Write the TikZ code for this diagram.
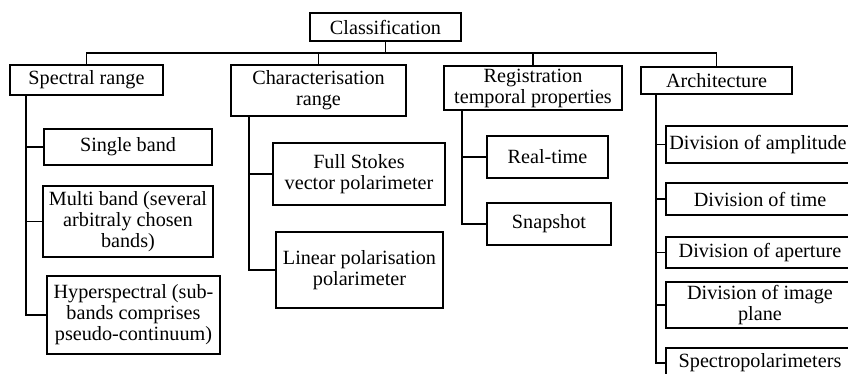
\documentclass[tikz,border=0pt]{standalone}
\usepackage{fontspec}
\setmainfont{Liberation Serif}
\begin{document}
\begin{tikzpicture}[x=1pt,y=-1pt,
  box/.style={draw=black,line width=1.5pt,inner sep=0pt,align=center,
    font=\fontsize{20.2}{21}\selectfont},
  con/.style={draw=black,line width=1.8pt}]
\clip (0,0) rectangle (848,373);
\useasboundingbox (0,0) rectangle (848,373);
% level 0 and 1
\node[box,minimum width=151pt,minimum height=28pt] (cls) at (385.5,27) {Classification};
\node[box,minimum width=153pt,minimum height=30pt] (spec) at (86.5,80) {Spectral range};
\node[box,minimum width=175pt,minimum height=51pt] (char) at (318.5,90.5) {Characterisation\\range};
\node[box,minimum width=178pt,minimum height=44pt] (reg) at (533,88) {Registration\\temporal properties};
\node[box,minimum width=151pt,minimum height=27pt] (arch) at (716.5,80.5) {Architecture};
% spectral children
\node[box,minimum width=168pt,minimum height=36pt] (single) at (128,147) {Single band};
\node[box,minimum width=170pt,minimum height=71pt] (multi) at (128,221.5) {Multi band (several\\arbitraly chosen\\bands)};
\node[box,minimum width=173pt,minimum height=78pt] (hyper) at (133.5,315) {Hyperspectral (sub-\\bands comprises\\pseudo-continuum)};
% characterisation children
\node[box,minimum width=172pt,minimum height=62pt] (full) at (359,174) {Full Stokes\\vector polarimeter};
\node[box,minimum width=167pt,minimum height=76pt] (lin) at (359.5,270) {Linear polarisation\\polarimeter};
% registration children
\node[box,minimum width=121pt,minimum height=42pt] (rt) at (547.5,157) {Real-time};
\node[box,minimum width=124pt,minimum height=42pt] (snap) at (549,224) {Snapshot};
% architecture children
\node[box,minimum width=184pt,minimum height=37pt] (amp) at (758,144.5) {Division of amplitude};
\node[box,minimum width=188pt,minimum height=32pt] (time) at (760,199) {Division of time};
\node[box,minimum width=188pt,minimum height=31pt] (ape) at (760,252.5) {Division of aperture};
\node[box,minimum width=188pt,minimum height=46pt] (img) at (760,305) {Division of image\\plane};
\node[box,minimum width=188pt,minimum height=30pt] (sp) at (760,363) {Spectropolarimeters};
% bus coordinates
\coordinate (bus) at (0,53);
\coordinate (tS) at (26,0);
\coordinate (tC) at (249,0);
\coordinate (tR) at (462,0);
\coordinate (tA) at (656,0);
% top level connectors
\draw[con] (cls.south) -- (cls.south |- bus);
\draw[con] (spec.north) -- (spec.north |- bus) -- (arch.north |- bus) -- (arch.north);
\draw[con] (char.north) -- (char.north |- bus);
\draw[con] (reg.north) -- (reg.north |- bus);
% spectral
\draw[con] (spec.south -| tS) |- (hyper.west);
\draw[con] (single.west) -- (single.west -| tS);
\draw[con] (multi.west) -- (multi.west -| tS);
% characterisation
\draw[con] (char.south -| tC) |- (lin.west);
\draw[con] (full.west) -- (full.west -| tC);
% registration
\draw[con] (reg.south -| tR) |- (snap.west);
\draw[con] (rt.west) -- (rt.west -| tR);
% architecture
\draw[con] (arch.south -| tA) |- (sp.west);
\draw[con] (amp.west) -- (amp.west -| tA);
\draw[con] (time.west) -- (time.west -| tA);
\draw[con] (ape.west) -- (ape.west -| tA);
\draw[con] (img.west) -- (img.west -| tA);
\end{tikzpicture}
\end{document}
